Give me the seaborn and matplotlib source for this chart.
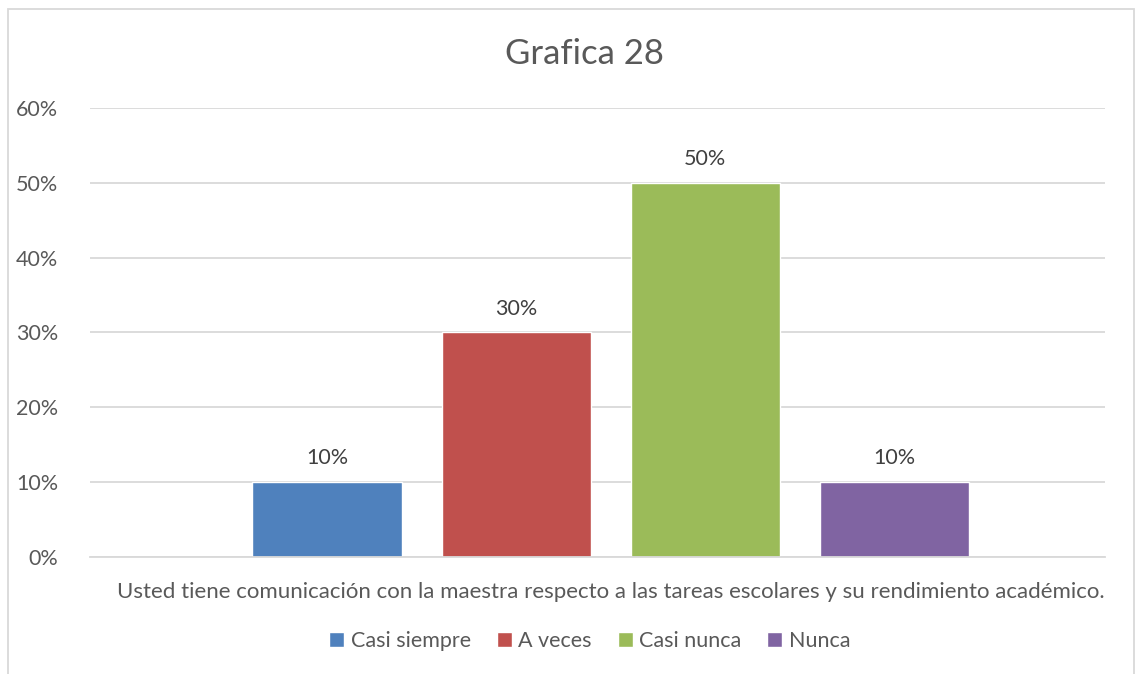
import pandas as pd
import matplotlib.pyplot as plt
import seaborn as sns
from matplotlib.patches import Rectangle
from matplotlib.ticker import PercentFormatter

# datos de la grafica
pregunta = 'Usted tiene comunicación con la maestra respecto a las tareas escolares y su rendimiento académico.'
respuestas = ['Casi siempre', 'A veces', 'Casi nunca', 'Nunca']
porcentajes = [0.10, 0.30, 0.50, 0.10]
colores = ['#4F81BD', '#C0504D', '#9BBB59', '#8064A2']

sns.set_theme(style='white')
plt.rcParams['font.family'] = ['Lato', 'DejaVu Sans']

df = pd.DataFrame({
    'pregunta': [pregunta] * len(respuestas),
    'respuesta': respuestas,
    'porcentaje': porcentajes,
})

fig = plt.figure(figsize=(11.45, 6.74), dpi=100)
ax = fig.add_axes([0.0786, 0.1736, 0.8865, 0.6662])

sns.barplot(data=df, x='pregunta', y='porcentaje', hue='respuesta',
            hue_order=respuestas, palette=colores, width=0.745, gap=0.21,
            saturation=1, ax=ax, legend=True)

ax.set_xlim(-0.513, 0.487)
ax.set_ylim(0, 0.6)
ax.set_yticks([0, 0.1, 0.2, 0.3, 0.4, 0.5, 0.6])
ax.yaxis.set_major_formatter(PercentFormatter(1.0, decimals=0))
ax.grid(axis='y', color='#D9D9D9', linewidth=1.3)
ax.set_axisbelow(True)
for s in ['top', 'right', 'left']:
    ax.spines[s].set_visible(False)
ax.spines['bottom'].set_color('#D9D9D9')
ax.spines['bottom'].set_linewidth(1.3)
ax.tick_params(axis='y', length=0, labelsize=15.5, labelcolor='#595959', pad=23)
ax.tick_params(axis='x', length=0, labelsize=16, labelcolor='#595959', pad=18)
ax.set_xlabel('')
ax.set_ylabel('')

# etiquetas de datos
for cont in ax.containers:
    ax.bar_label(cont, labels=[f'{v:.0%}' for v in cont.datavalues],
                 padding=10, fontsize=15.5, color='#404040')

ax.set_title('Grafica 28', fontsize=25, color='#595959', pad=32, x=0.487)

# leyenda abajo
handles, labels = ax.get_legend_handles_labels()
ax.get_legend().remove()
fig.legend(handles, labels, loc='center', bbox_to_anchor=(0.515, 0.049),
           ncol=4, frameon=False, fontsize=15.5, labelcolor='#595959',
           handlelength=0.7, handleheight=0.7, handletextpad=0.3,
           columnspacing=1.2)

# borde del grafico
fig.patches.append(Rectangle((0.007, -0.01), 0.983, 0.997, transform=fig.transFigure,
                             fill=False, edgecolor='#D9D9D9', linewidth=1.3))

fig.savefig('out.png', dpi=100)
